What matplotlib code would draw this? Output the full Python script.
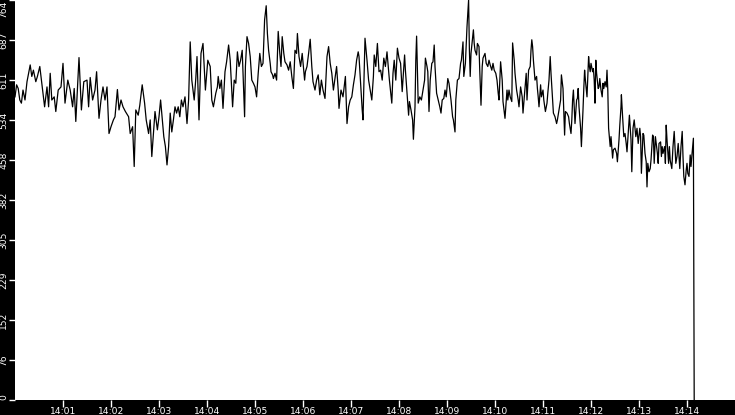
import matplotlib
matplotlib.use("Agg")
import matplotlib.pyplot as plt
from matplotlib.ticker import FixedLocator, FuncFormatter

# seconds after 14:00:00 and sampled values
secs = [
    0, 2, 4, 6, 8, 10, 12.5, 15, 19, 21, 23, 26, 28, 31, 34, 37, 40, 42, 44, 46,
    49, 51, 54, 57.5, 60, 62.5, 66, 69, 72, 74, 76, 80, 83, 86, 90, 92, 94, 97, 100, 102,
    105, 107.5, 110, 112.5, 115, 117.5, 120, 123, 125, 128, 130, 132.5, 135, 138, 142, 144, 147, 149, 151, 154,
    156, 159, 162, 164, 167, 169, 171, 173, 175, 178, 180, 182, 184, 186, 188, 190, 192, 194, 196, 198,
    200, 202, 204, 206, 208, 210, 212.5, 215, 217, 219,
    221, 224, 226, 227.5, 230, 232.5, 235, 238, 241, 244, 246, 248, 251, 253, 254, 256, 258, 260, 262.5, 264.5,
    267, 269, 272, 274, 276, 278, 280, 282, 284, 287, 288, 290, 292, 294, 296, 298, 300, 302, 304, 306,
    308, 310, 312, 314, 315.5, 317, 319, 320, 322, 323, 325, 327, 329, 331, 332.5, 334, 336, 337.5, 340, 342,
    344, 346, 348, 350, 352, 353, 355, 357, 359, 362, 363, 365, 367, 369, 371, 372.5, 375, 377, 379, 381,
    383, 385, 387.5, 390, 392, 394, 396, 398, 400, 402, 404, 405, 407.5, 410, 412, 413, 415, 417, 419, 421,
    423, 425, 427, 429, 430,
    432.5, 434, 435, 437.5, 440, 442, 444, 446, 448, 449, 451, 453, 455, 457, 459, 461, 463, 465, 467, 468,
    471, 472.5, 474, 476, 478, 480, 482, 484, 487, 488, 490, 492, 493, 495, 497, 498, 500, 501, 502, 504,
    506, 508, 510, 512, 513, 515, 516, 517.5, 519, 521, 522.5, 524, 525, 527, 529, 531, 532.5, 534, 536, 537.5,
    539, 541, 542.5, 545, 547, 548, 550, 551, 553, 555, 557, 558, 560, 561, 563, 565, 566, 567, 568, 569,
    570, 572, 573, 574, 575, 577, 578, 580, 581, 582.5, 584, 585, 587.5, 589, 591, 592.5, 594, 596, 597.5, 599,
    601, 602.5, 604, 605, 607, 609, 610, 612.5, 615, 616, 617.5, 619, 621, 622, 624, 625, 627, 629, 630, 632,
    634, 635, 637, 639, 640, 642,
    644, 645, 646, 647, 648, 650, 652, 653, 654, 655, 657, 658, 660, 661, 663, 665, 666, 667.5, 669, 670,
    672, 673, 675, 677, 678, 680, 682, 683, 685, 687, 688, 690, 692, 693, 695, 696, 697, 698, 700, 702,
    703, 704, 705, 707, 708, 710, 711, 712, 713, 715, 716, 717, 718, 719, 720, 722, 723, 724, 725, 726,
    727, 729, 730, 731, 732.5, 734, 735, 736, 737.5, 739, 740, 741, 742, 744, 745, 747, 748, 750, 752, 753,
    755, 756, 757.5, 758, 759.5, 761, 762.5, 764, 765, 767, 768, 770, 771, 772.5, 774, 776, 777.5, 779, 781, 782,
    783, 785, 786, 787.5, 789, 790, 791, 792.5, 794, 795, 797, 798, 799, 800.5, 802, 803, 804, 805, 807, 808,
    809, 810, 812, 813, 814, 815, 817, 818, 819, 821, 822.5, 824, 825, 826, 827.5, 829, 830, 831, 832.5, 834,
    835, 836, 837.5, 839, 840, 841, 842.5, 844, 845, 846, 848, 849,
]
values = [
    579, 602, 595, 573, 567, 592, 573, 608, 640, 618, 630, 608, 618, 637, 598, 560, 598, 560, 624, 573,
    579, 551, 592, 598, 643, 567, 611, 592, 560, 595, 532, 654, 554, 608, 611, 560, 616, 573, 592, 627,
    538, 573, 598, 573, 598, 509, 522, 535, 541, 593, 554, 573, 560, 551, 541, 509, 522, 446, 554, 544,
    563, 602, 567, 535, 509, 535, 465, 509, 551, 516, 541, 573, 538, 503, 484, 449, 484, 548, 512, 535,
    560, 548, 560, 541, 573, 560, 579, 528, 573, 684,
    611, 573, 614, 656, 535, 662, 681, 592, 649, 637, 573, 560, 586, 598, 618, 595, 611, 557, 627, 646,
    678, 649, 560, 611, 605, 665, 637, 649, 668, 541, 637, 694, 681, 656, 611, 605, 598, 579, 624, 662,
    637, 643, 726, 753, 700, 668, 643, 627, 621, 614, 624, 611, 704, 662, 637, 694, 662, 646, 640, 630,
    646, 618, 595, 668, 662, 700, 656, 637, 662, 611, 627, 637, 662, 689, 637, 608, 592, 611, 621, 583,
    611, 592, 576, 656, 675, 643, 624, 592, 614, 637, 592, 557, 592, 579, 605, 618, 528, 560, 573, 579,
    602, 621, 649, 665, 656,
    592, 554, 535, 691, 649, 611, 592, 573, 618, 659, 637, 681, 627, 630, 611, 653, 637, 665, 630, 611,
    567, 624, 649, 611, 672, 653, 643, 589, 659, 630, 586, 544, 570, 554, 535, 498, 560, 649, 695, 567,
    579, 573, 592, 611, 653, 637, 627, 551, 611, 643, 646, 678, 637, 586, 573, 560, 548, 573, 576, 592,
    579, 614, 605, 573, 541, 535, 512, 573, 611, 614, 643, 649, 684, 618, 643, 713, 739, 764, 668, 618,
    662, 691, 707, 681, 668, 659, 681, 675, 627, 563, 637, 653, 662, 643, 637, 649, 640, 630, 643, 630,
    624, 611, 586, 573, 646, 611, 570, 538, 592, 573, 592, 579, 570, 682, 649, 624, 592, 573, 560, 598,
    579, 548, 586, 624, 573, 630,
    637, 668, 688, 675, 649, 611, 618, 595, 579, 560, 602, 579, 592, 573, 551, 567, 586, 611, 656, 624,
    573, 548, 541, 528, 535, 554, 573, 621, 595, 506, 551, 548, 541, 528, 509, 535, 573, 592, 528, 573,
    576, 595, 560, 519, 484, 554, 595, 630, 611, 579, 618, 656, 637, 627, 643, 627, 633, 611, 567, 649,
    624, 595, 598, 614, 592, 579, 605, 595, 608, 598, 630, 592, 519, 484, 503, 462, 478, 481, 471, 455,
    497, 525, 560, 583, 541, 503, 509, 490, 474, 522, 544, 497, 436, 519, 535, 503, 519, 490, 519, 503,
    433, 509, 506, 471, 455, 407, 452, 436, 442, 458, 506, 503, 452, 503, 484, 471, 452, 490, 493, 465,
    484, 471, 484, 452, 525, 497, 452, 484, 458, 442, 484, 513, 484, 452, 465, 490, 465, 442, 484, 513,
    465, 427, 411, 439, 452, 433, 427, 468, 446, 465, 500, 0,
]

y_max = 764
y_ticks = [y_max * i / 10 for i in range(11)]
x_ticks = [60 * m for m in range(1, 15)]

fig = plt.figure(figsize=(7.35, 4.15), dpi=100, facecolor="black")
ax = fig.add_axes([15 / 735, 15 / 415, 720 / 735, 400 / 415])
ax.set_facecolor("white")
ax.plot(secs, values, color="black", lw=0.9)

ax.set_xlim(0, 900)
ax.set_ylim(0, y_max)
for s in ax.spines.values():
    s.set_visible(False)

ax.xaxis.set_major_locator(FixedLocator(x_ticks))
ax.xaxis.set_major_formatter(FuncFormatter(lambda v, p: "14:%02d" % (v // 60)))
ax.yaxis.set_major_locator(FixedLocator(y_ticks))
# labels are truncated, not rounded (687.6 -> 687)
ax.yaxis.set_major_formatter(FuncFormatter(lambda v, p: "%d" % int(round(v, 6))))
ax.tick_params(colors="white", labelcolor="white", labelsize=6.6, length=4, width=1, pad=1)
ax.tick_params(axis="x", length=5, pad=0)

fig.canvas.draw()
for t in ax.get_yticklabels():
    t.set_rotation(90)
    t.set_va("center")
    t.set_ha("right")
ylabels = ax.get_yticklabels()
ylabels[0].set_va("bottom")
ylabels[-1].set_va("top")

fig.savefig("out.png", dpi=100, facecolor="black")
